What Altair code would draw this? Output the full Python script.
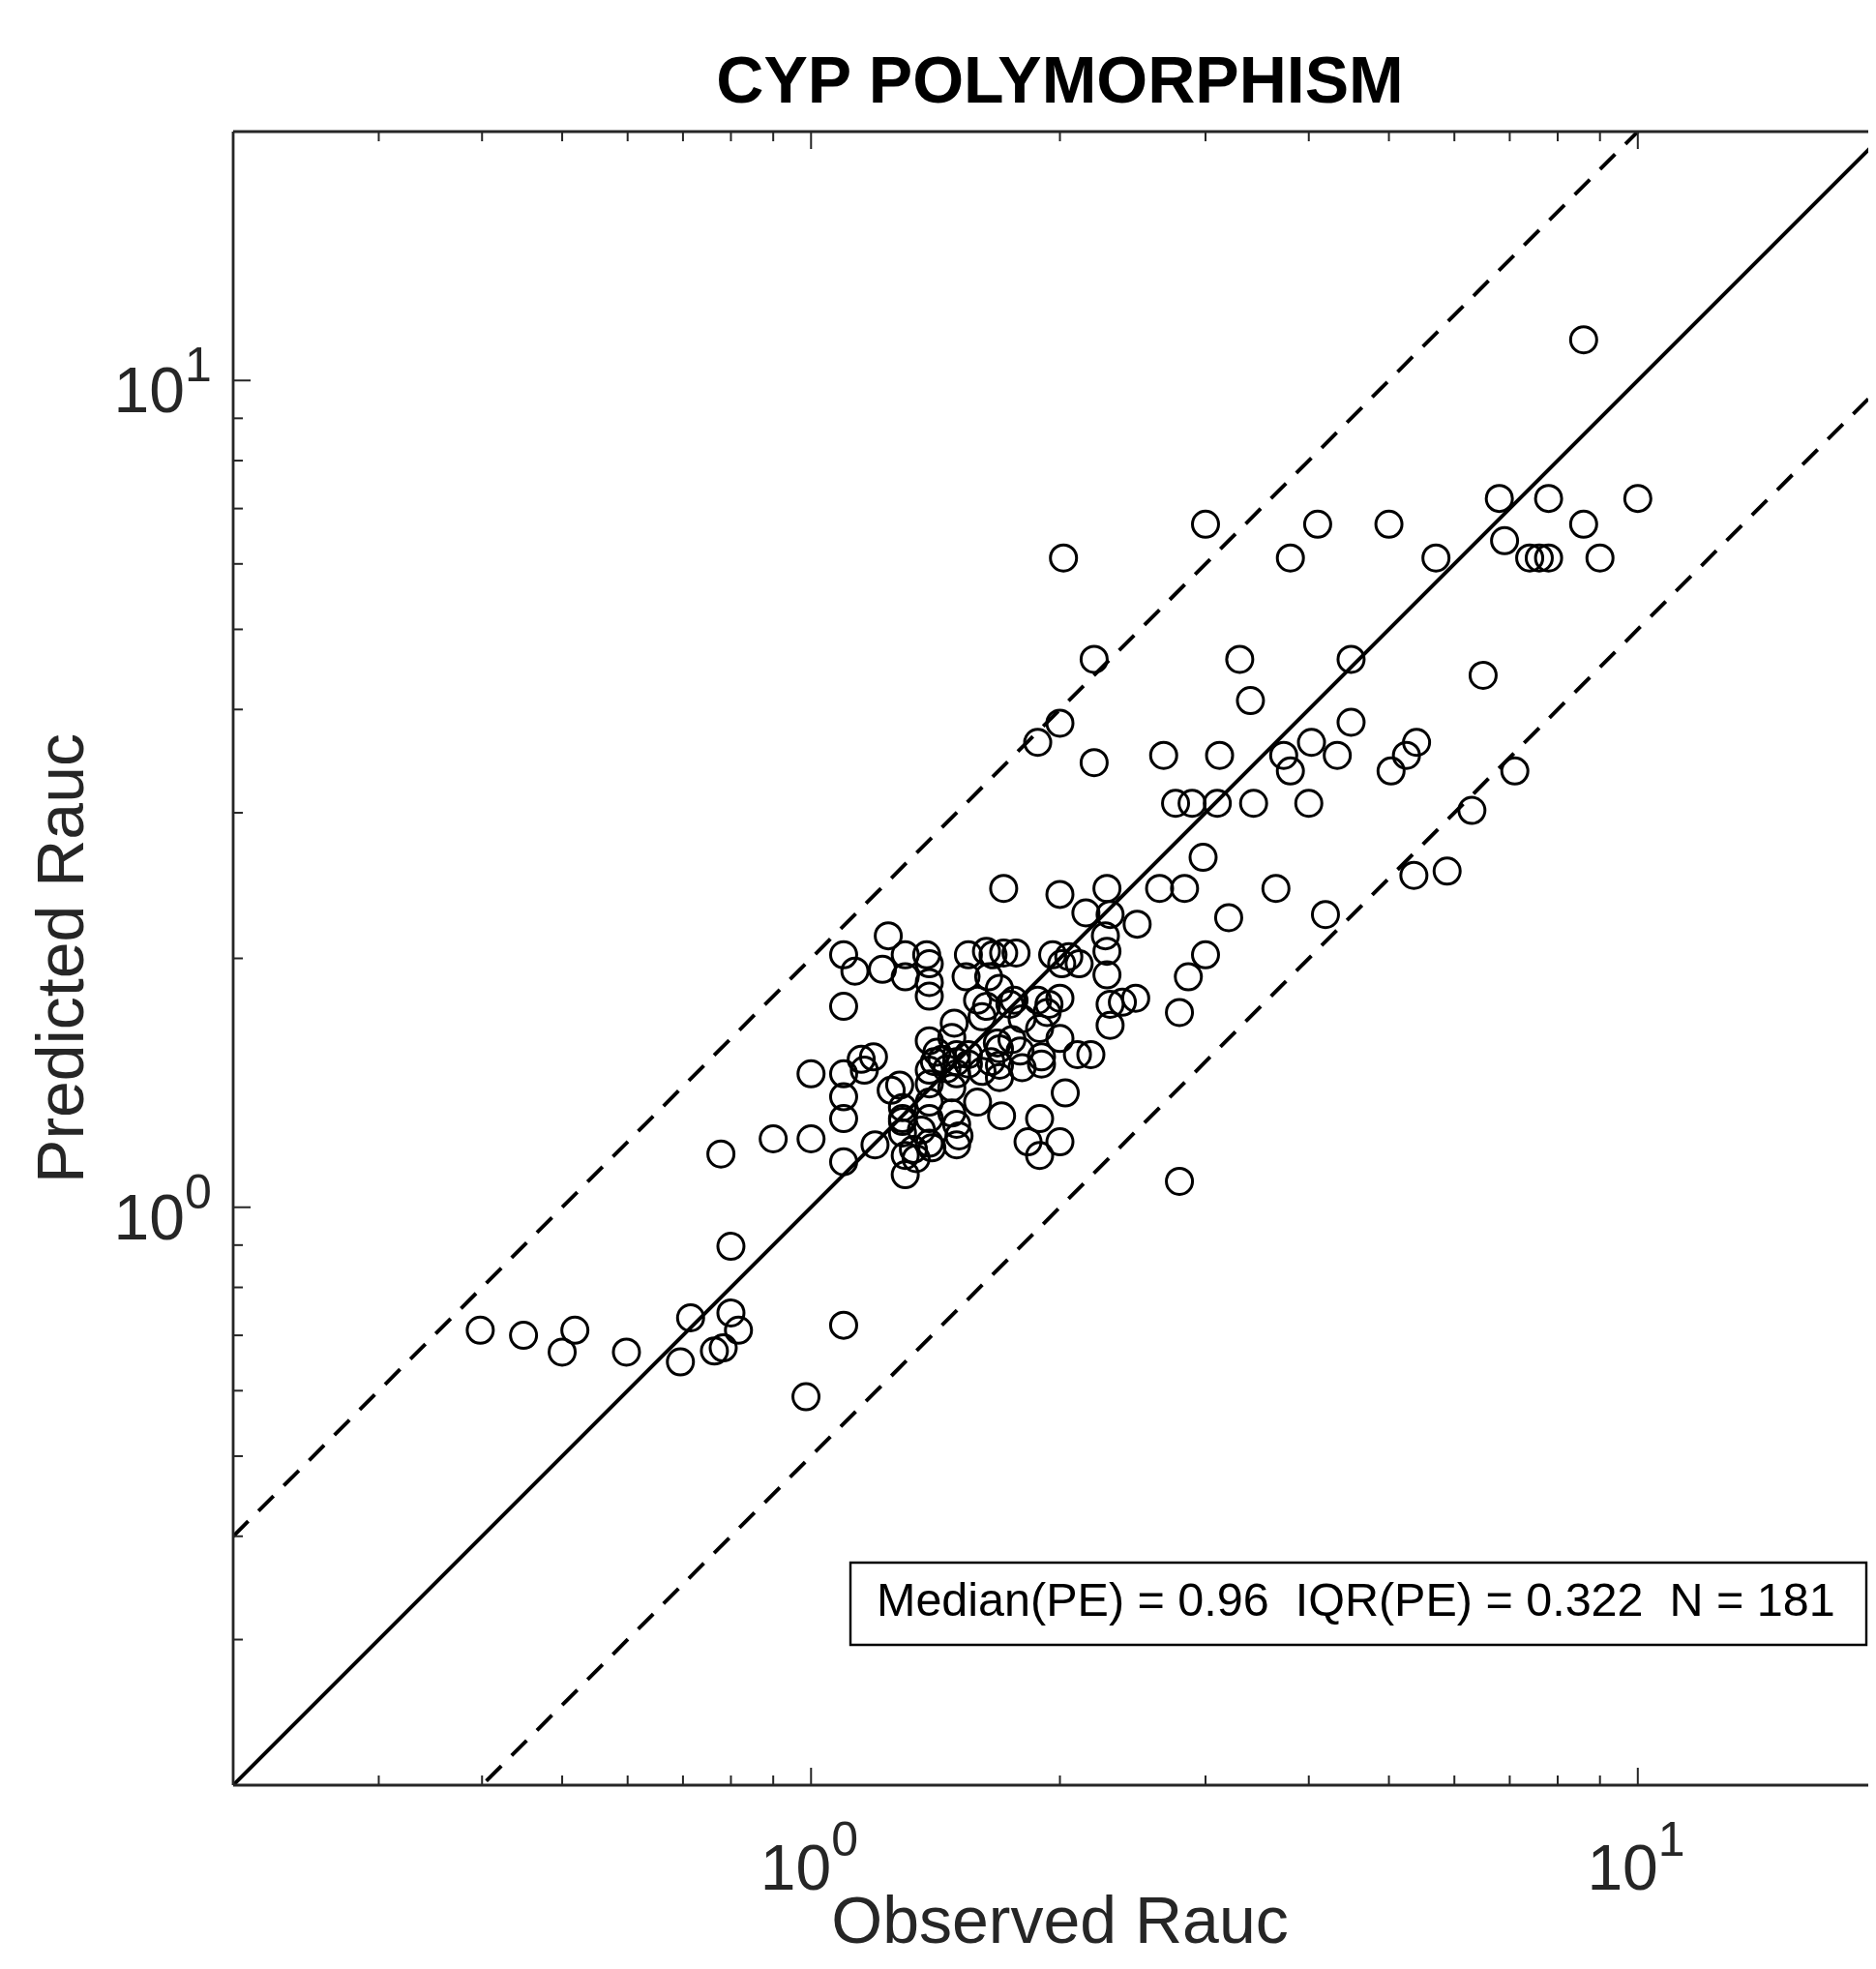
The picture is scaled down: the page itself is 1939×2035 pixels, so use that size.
import altair as alt
import pandas as pd

# ---------------- data ----------------
obs = [8.6, 6.8, 7.8, 10.0, 3.0, 4.1, 5.0, 8.6, 6.9, 2.02,
       3.8, 5.7, 7.4, 7.6, 7.8, 9.0, 2.2, 3.3, 4.5, 6.5,
       3.4, 2.0, 4.5, 1.88, 4.03, 5.4, 2.67, 3.12, 3.73, 4.33,
       5.25, 2.2, 3.8, 5.03, 7.1, 2.76, 2.89, 3.1, 3.43, 4.0,
       6.3, 2.98, 5.36, 5.88, 1.71, 2.28, 2.64, 2.83, 3.65, 2.0,
       4.19, 3.2, 2.15, 2.3, 2.48, 1.24, 1.095, 1.3, 1.38, 1.55,
       1.63, 1.66, 1.71, 1.77, 2.05, 2.28, 1.13, 1.22, 1.30, 1.39,
       1.39, 1.39, 1.54, 2.01, 2.11, 2.28, 3.0, 2.86, 1.095, 1.59,
       1.63, 1.69, 1.76, 1.88, 1.94, 2.0, 2.3, 2.38, 2.47, 2.79,
       1.49, 1.61, 1.8, 1.89, 2.3, 1.39, 1.42, 1.5, 1.55, 1.68,
       1.75, 2.0, 2.1, 2.18, 1.9, 1.9, 1.15, 1.19, 1.0, 1.095,
       1.39, 1.46, 1.61, 1.69, 1.69, 1.39, 1.48, 1.25, 1.095, 2.03,
       1.59, 1.39, 1.29, 1.29, 1.70, 1.89, 1.095, 1.5, 1.39, 0.9,
       1.0, 1.195, 1.39, 1.5, 1.83, 2.0, 1.095, 1.30, 1.33, 1.40,
       1.89, 1.30, 2.79, 0.778, 1.5, 2.27, 0.80, 0.715, 0.80, 0.817,
       0.783, 0.764, 0.398, 0.449, 0.518, 0.5, 0.598, 0.695, 1.095, 0.986,
       1.48, 1.79, 1.69, 1.48, 1.28, 1.29, 1.34, 1.16, 1.5, 1.44,
       1.55, 1.64, 1.93, 1.96, 1.41, 1.36, 1.51, 1.65, 1.8, 1.74,
       1.29]
pred = [11.2, 7.2, 7.2, 7.2, 6.7, 6.7, 6.7, 6.7, 6.4, 6.1,
        6.1, 6.1, 6.1, 6.1, 6.1, 6.1, 4.6, 4.6, 4.6, 4.4,
        4.1, 3.85, 3.86, 3.65, 3.65, 3.65, 3.52, 3.52, 3.52, 3.52,
        3.52, 3.45, 3.37, 3.37, 3.37, 3.08, 3.08, 3.08, 3.08, 3.08,
        3.02, 2.65, 2.52, 2.55, 2.43, 2.43, 2.43, 2.43, 2.43, 2.39,
        2.26, 2.24, 2.27, 2.26, 2.2, 2.13, 2.02, 2.02, 2.02, 2.02,
        2.04, 2.02, 2.03, 2.03, 2.01, 2.04, 1.93, 1.94, 1.9, 1.97,
        1.87, 1.80, 1.9, 1.97, 1.97, 1.91, 2.02, 1.9, 1.75, 1.78,
        1.75, 1.84, 1.78, 1.78, 1.76, 1.79, 1.76, 1.77, 1.79, 1.72,
        1.67, 1.70, 1.69, 1.645, 1.66, 1.59, 1.54, 1.5, 1.49, 1.58,
        1.595, 1.6, 1.53, 1.53, 1.52, 1.49, 1.51, 1.52, 1.45, 1.45,
        1.465, 1.47, 1.46, 1.485, 1.435, 1.41, 1.395, 1.385, 1.36, 1.375,
        1.34, 1.34, 1.32, 1.27, 1.29, 1.28, 1.28, 1.26, 1.28, 1.21,
        1.21, 1.19, 1.195, 1.19, 1.2, 1.2, 1.135, 1.155, 1.175, 1.18,
        1.155, 1.095, 1.075, 1.16, 1.53, 2.13, 0.897, 0.735, 0.745, 0.71,
        0.676, 0.67, 0.71, 0.70, 0.71, 0.668, 0.668, 0.65, 0.72, 0.59,
        1.30, 1.545, 1.555, 1.605, 1.405, 1.23, 1.145, 1.465, 1.45, 1.51,
        1.53, 1.9, 1.72, 2.02, 1.5, 1.24, 1.22, 1.5, 1.475, 1.76,
        1.28]

# the reference image is cropped at the right: only x in [0.2, ~19] is visible (axis ends at 20)
x_domain = [0.2, 19.0]
y_domain = [0.2, 20]
major_ticks = [1, 10]
minor_ticks_x = [0.3, 0.4, 0.5, 0.6, 0.7, 0.8, 0.9, 2, 3, 4, 5, 6, 7, 8, 9]
minor_ticks_y = [0.3, 0.4, 0.5, 0.6, 0.7, 0.8, 0.9, 2, 3, 4, 5, 6, 7, 8, 9]
tick_base = ["10", "10"]
tick_exp = ["0", "1"]
line_x = [0.2, 20]
line_factor_solid = [1]
line_factor_dashed = [2, 0.5]

title_text = "CYP POLYMORPHISM"
x_title = "Observed Rauc"
y_title = "Predicted Rauc"
stats_text = "Median(PE) = 0.96\u00a0\u00a0IQR(PE) = 0.322\u00a0\u00a0N = 181"

# ---------------- layout / style ----------------
W = 1690          # visible part of the plot area (page is cropped)
H = 1709
RIGHT = 1709      # where the full (cropped) plot area would end
FONT = "Liberation Sans"
AX = "#262626"

xs = alt.Scale(type="log", domain=x_domain, nice=False)
ys = alt.Scale(type="log", domain=y_domain, nice=False)


def X(field):
    return alt.X(field, type="quantitative", scale=xs, axis=None)


def Y(field):
    return alt.Y(field, type="quantitative", scale=ys, axis=None)


solid_df = pd.DataFrame([{"x": x, "y": x * f, "kind": str(f)} for f in line_factor_solid for x in line_x])
dashed_df = pd.DataFrame([{"x": x, "y": x * f, "kind": str(f)} for f in line_factor_dashed for x in line_x])

solid = alt.Chart(solid_df).mark_line(color="black", strokeWidth=3.9, clip=True).encode(
    x=X("x"), y=Y("y"), detail="kind:N")
dashed = alt.Chart(dashed_df).mark_line(color="black", strokeWidth=3.9, strokeDash=[22, 15], clip=True).encode(
    x=X("x"), y=Y("y"), detail="kind:N")

points = alt.Chart(pd.DataFrame({"obs": obs, "pred": pred})).mark_point(
    shape="circle", filled=False, size=729, strokeWidth=3, color="black", opacity=1
).encode(x=X("obs"), y=Y("pred"))

maj_x = pd.DataFrame({"v": major_ticks})
min_x = pd.DataFrame({"v": minor_ticks_x})
maj_y = pd.DataFrame({"v": major_ticks})
min_y = pd.DataFrame({"v": minor_ticks_y})


def xtick_layers(df, length):
    bottom = alt.Chart(df).mark_rule(color=AX, strokeWidth=2).encode(
        x=X("v"), y=alt.value(H), y2=alt.value(H - length))
    top = alt.Chart(df).mark_rule(color=AX, strokeWidth=2).encode(
        x=X("v"), y=alt.value(0), y2=alt.value(length))
    return [bottom, top]


def ytick_layers(df, length):
    left = alt.Chart(df).mark_rule(color=AX, strokeWidth=2).encode(
        y=Y("v"), x=alt.value(0), x2=alt.value(length))
    right = alt.Chart(df).mark_rule(color=AX, strokeWidth=2).encode(
        y=Y("v"), x=alt.value(RIGHT), x2=alt.value(RIGHT - length))
    return [left, right]


ticks = xtick_layers(maj_x, 18) + xtick_layers(min_x, 10) + ytick_layers(maj_y, 18) + ytick_layers(min_y, 10)

frame_df = pd.DataFrame({"side": ["frame"]})
frame_left = alt.Chart(frame_df).mark_rule(color=AX, strokeWidth=2.8).encode(
    x=alt.value(0), y=alt.value(0), y2=alt.value(H))
frame_top = alt.Chart(frame_df).mark_rule(color=AX, strokeWidth=2.8).encode(
    y=alt.value(0), x=alt.value(0), x2=alt.value(RIGHT))
frame_bottom = alt.Chart(frame_df).mark_rule(color=AX, strokeWidth=2.8).encode(
    y=alt.value(H), x=alt.value(0), x2=alt.value(RIGHT))

lab_df = pd.DataFrame({"v": major_ticks, "base": tick_base, "exp": tick_exp})
xlab_base = alt.Chart(lab_df).mark_text(
    align="right", baseline="alphabetic", dx=21, fontSize=66, font=FONT, color=AX
).encode(x=X("v"), y=alt.value(H + 108), text="base:N")
xlab_exp = alt.Chart(lab_df).mark_text(
    align="left", baseline="alphabetic", dx=21, fontSize=50, font=FONT, color=AX
).encode(x=X("v"), y=alt.value(H + 73), text="exp:N")
ylab_base = alt.Chart(lab_df).mark_text(
    align="right", baseline="alphabetic", dy=33, fontSize=66, font=FONT, color=AX
).encode(y=Y("v"), x=alt.value(-50), text="base:N")
ylab_exp = alt.Chart(lab_df).mark_text(
    align="left", baseline="alphabetic", dy=1, fontSize=50, font=FONT, color=AX
).encode(y=Y("v"), x=alt.value(-50), text="exp:N")

txt_df = pd.DataFrame({"title": [title_text], "xt": [x_title], "yt": [y_title], "stats": [stats_text]})
title = alt.Chart(txt_df).mark_text(
    align="center", baseline="alphabetic", fontSize=68, fontWeight="bold", font=FONT, color="black"
).encode(x=alt.value(RIGHT / 2), y=alt.value(-30), text="title:N")
xtitle = alt.Chart(txt_df).mark_text(
    align="center", baseline="alphabetic", fontSize=68, font=FONT, color=AX
).encode(x=alt.value(RIGHT / 2), y=alt.value(H + 163), text="xt:N")
ytitle = alt.Chart(txt_df).mark_text(
    align="center", baseline="alphabetic", fontSize=68, font=FONT, color=AX, angle=270
).encode(x=alt.value(-155), y=alt.value(H / 2), text="yt:N")

box = alt.Chart(txt_df).mark_rect(fill="white", stroke="black", strokeWidth=2.4).encode(
    x=alt.value(638), x2=alt.value(1688), y=alt.value(1479), y2=alt.value(1564))
box_text = alt.Chart(txt_df).mark_text(
    align="left", baseline="alphabetic", fontSize=48.5, font=FONT, color="black"
).encode(x=alt.value(665), y=alt.value(1534), text="stats:N")

chart = alt.layer(
    solid, dashed, points, *ticks, frame_left, frame_top, frame_bottom,
    xlab_base, xlab_exp, ylab_base, ylab_exp,
    title, xtitle, ytitle, box, box_text
).properties(
    width=W, height=H,
    autosize=alt.AutoSizeParams(type="none"),
    padding={"left": 233, "top": 128, "right": 0, "bottom": 180},
).configure_view(strokeWidth=0)

chart.save("out.html", embed_options={"renderer": "svg", "actions": False})
